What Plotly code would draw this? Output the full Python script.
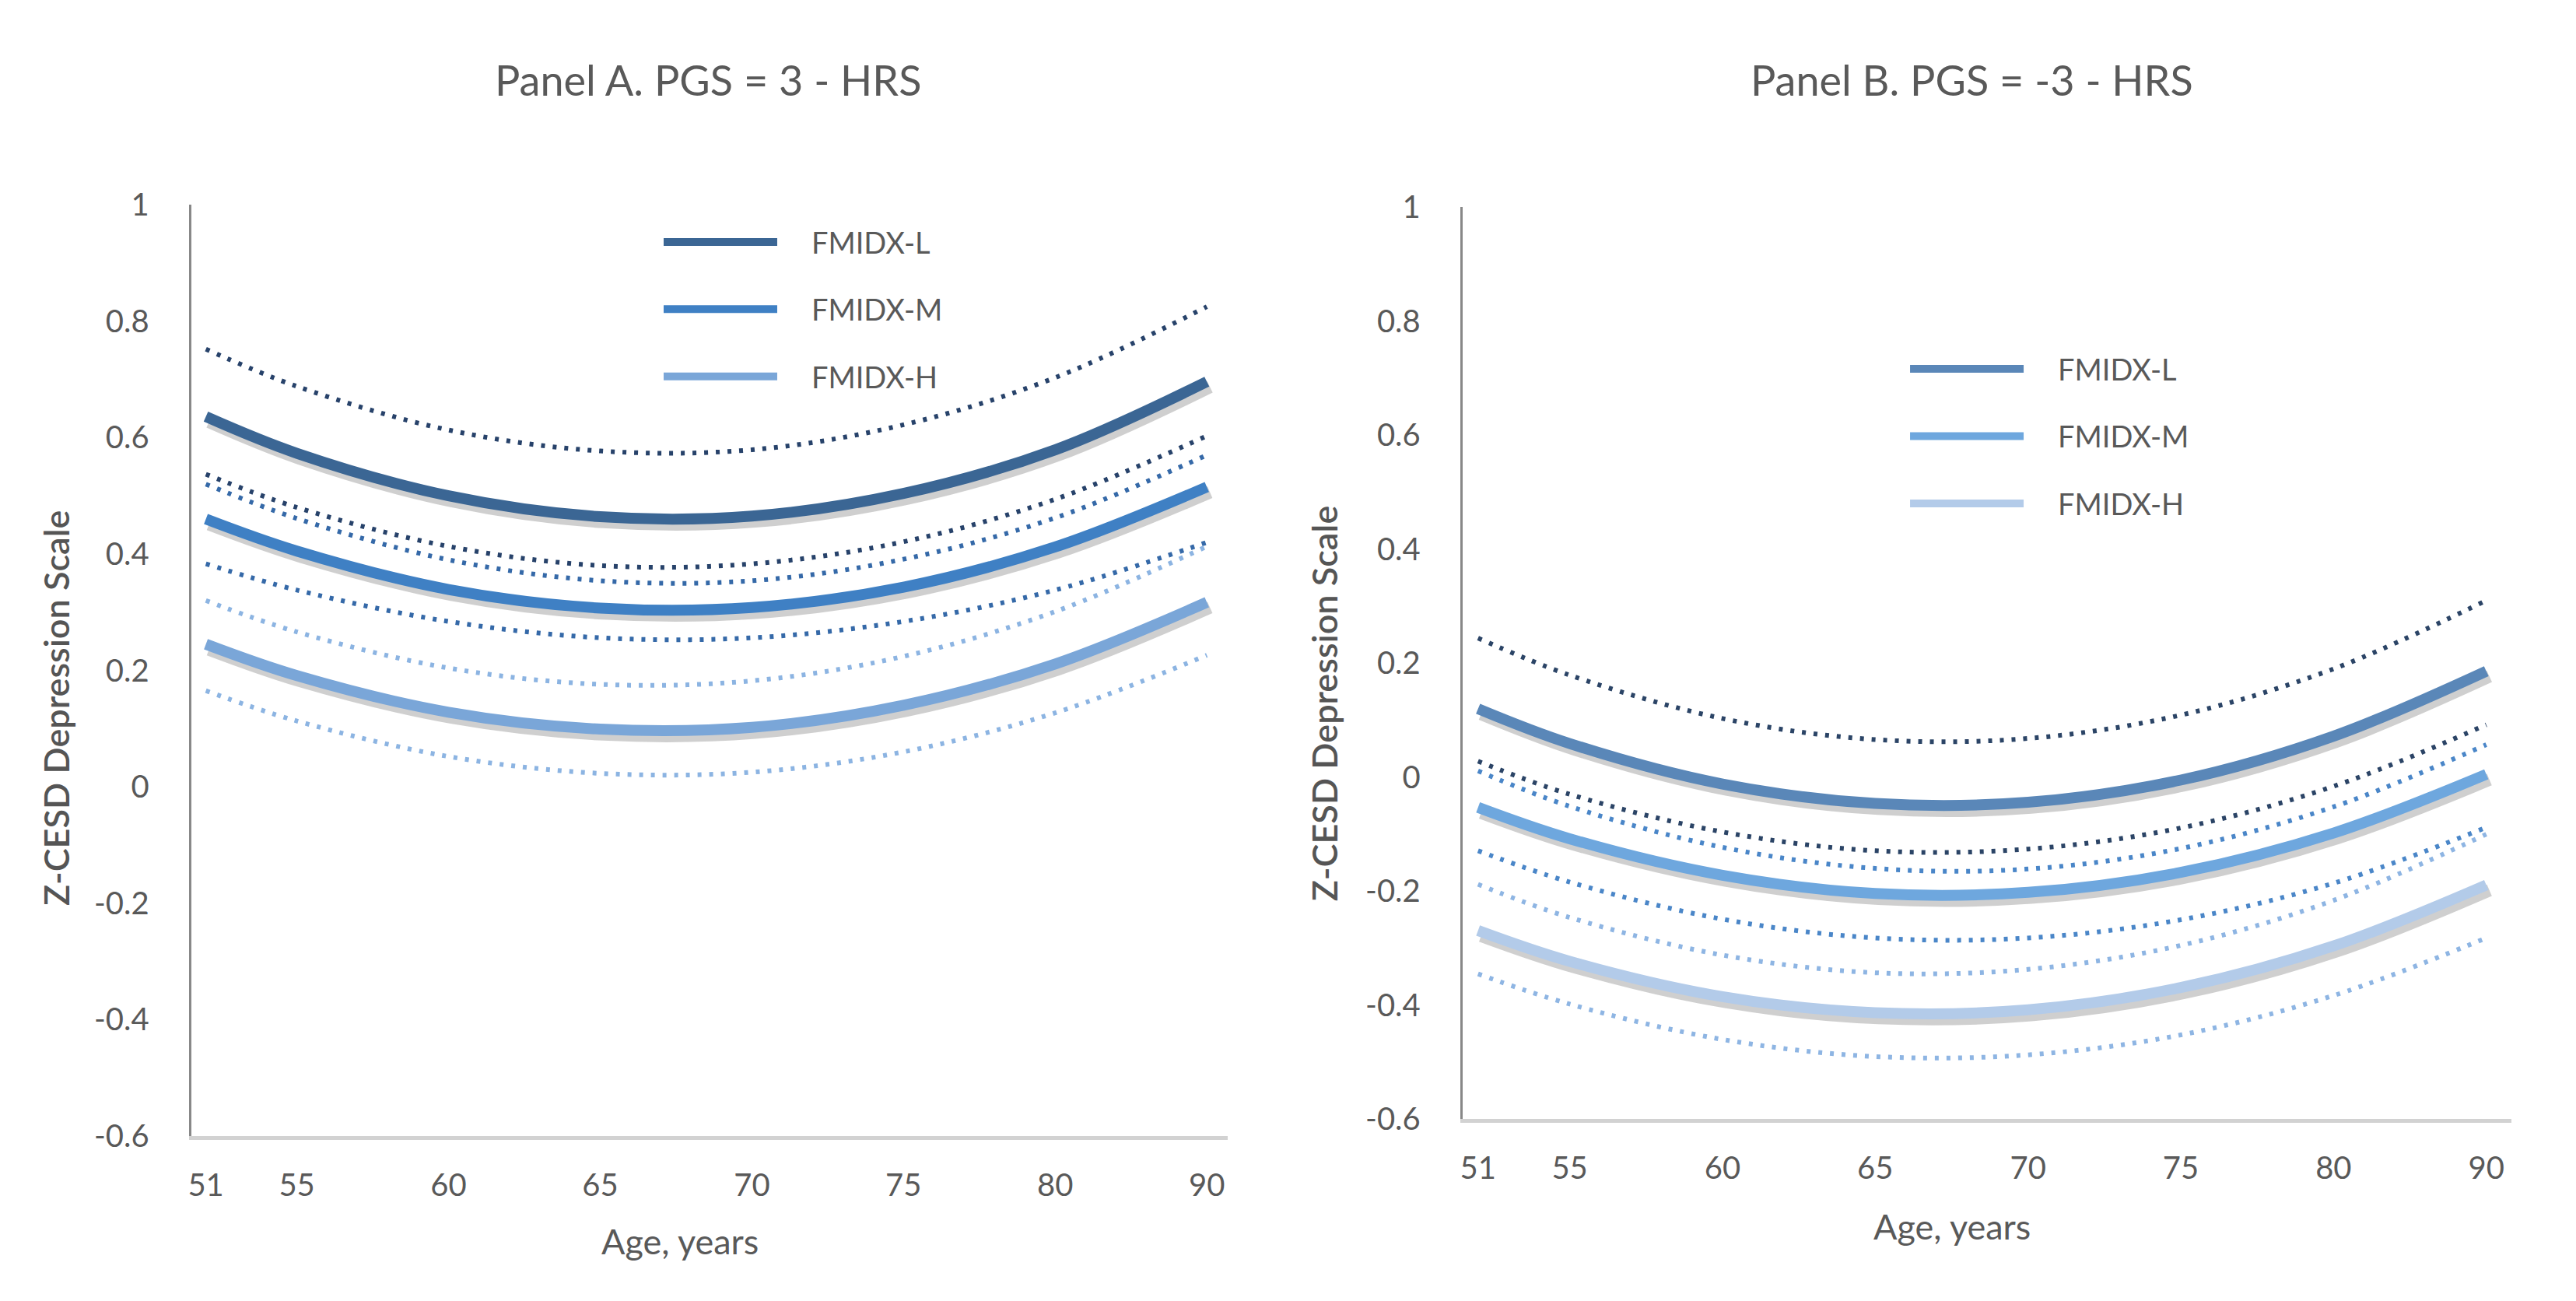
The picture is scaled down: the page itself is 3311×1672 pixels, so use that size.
import plotly.graph_objects as go

# ---------------- data ----------------
AGE_LABELS = ["51", "55", "60", "65", "70", "75", "80", "90"]
SERIES = ["FMIDX-L", "FMIDX-M", "FMIDX-H"]
Y_TICKS = [1, 0.8, 0.6, 0.4, 0.2, 0, -0.2, -0.4, -0.6]
Y_TICK_TEXT = ["1", "0.8", "0.6", "0.4", "0.2", "0", "-0.2", "-0.4", "-0.6"]

# Panel A. PGS = 3 - HRS  (estimate, upper and lower bound at each age label)
A_L = [0.636, 0.573, 0.500, 0.464, 0.465, 0.504, 0.579, 0.696]
A_L_UP = [0.752, 0.688, 0.613, 0.577, 0.579, 0.622, 0.703, 0.825]
A_L_LO = [0.537, 0.480, 0.413, 0.380, 0.383, 0.421, 0.494, 0.603]
A_M = [0.460, 0.405, 0.339, 0.307, 0.308, 0.343, 0.412, 0.515]
A_M_UP = [0.520, 0.461, 0.390, 0.354, 0.354, 0.391, 0.462, 0.570]
A_M_LO = [0.383, 0.338, 0.284, 0.256, 0.256, 0.284, 0.338, 0.420]
A_H = [0.245, 0.191, 0.128, 0.099, 0.102, 0.140, 0.211, 0.317]
A_H_UP = [0.320, 0.266, 0.204, 0.176, 0.182, 0.224, 0.301, 0.413]
A_H_LO = [0.165, 0.113, 0.052, 0.023, 0.025, 0.060, 0.127, 0.226]

# Panel B. PGS = -3 - HRS
B_L = [0.120, 0.059, -0.012, -0.046, -0.044, -0.005, 0.072, 0.186]
B_L_UP = [0.244, 0.179, 0.103, 0.066, 0.068, 0.109, 0.190, 0.310]
B_L_LO = [0.028, -0.030, -0.096, -0.129, -0.126, -0.089, -0.016, 0.092]
B_M = [-0.053, -0.108, -0.172, -0.204, -0.202, -0.167, -0.098, 0.005]
B_M_UP = [0.011, -0.051, -0.123, -0.160, -0.161, -0.125, -0.052, 0.057]
B_M_LO = [-0.129, -0.184, -0.249, -0.282, -0.282, -0.250, -0.186, -0.088]
B_H = [-0.269, -0.323, -0.385, -0.413, -0.408, -0.369, -0.296, -0.189]
B_H_UP = [-0.188, -0.246, -0.312, -0.343, -0.337, -0.295, -0.216, -0.100]
B_H_LO = [-0.345, -0.398, -0.460, -0.490, -0.487, -0.452, -0.383, -0.282]

# ---------------- layout helpers ----------------
W, H = 3311, 1672
PAGE_OFF = 8  # default page body margin
# the source chart spaces its age labels unevenly (51 and 55 close together)
TICK_POS = [0, 0.6, 1.6, 2.6, 3.6, 4.6, 5.6, 6.6]


def fx(p):
    return (p - PAGE_OFF) / W


def fy(p):
    return 1 - (p - PAGE_OFF) / H


FONT = "Lato, 'Open Sans', sans-serif"
TXT = "#595959"

panels = {
    "A": dict(x0=242, x1=1576, ytop=245, ybot=1477, xr=[-0.097, 6.738],
              title="Panel A. PGS = 3 - HRS", tx=907, ty=80,
              xt=(871, 1616), yt=(68, 910),
              solid=["#3b6694", "#3f80c4", "#7aa6d8"],
              dots=["#27426a", "#3569a8", "#8cb4e2"],
              data=[(A_L, A_L_UP, A_L_LO), (A_M, A_M_UP, A_M_LO), (A_H, A_H_UP, A_H_LO)],
              legend="legend", ax_main=3, ax_shadow=1),
    "B": dict(x0=1878, x1=3228, ytop=248, ybot=1455, xr=[-0.102, 6.765],
              title="Panel B. PGS = -3 - HRS", tx=2534, ty=80,
              xt=(2508, 1597), yt=(1700, 904),
              solid=["#5a87b8", "#6ea7de", "#b3cbe9"],
              dots=["#2b4466", "#4a86c8", "#8eb5e3"],
              data=[(B_L, B_L_UP, B_L_LO), (B_M, B_M_UP, B_M_LO), (B_H, B_H_UP, B_H_LO)],
              legend="legend2", ax_main=4, ax_shadow=2),
}

fig = go.Figure()
layout = dict(
    width=W, height=H, margin=dict(l=0, r=0, t=0, b=0),
    paper_bgcolor="white", plot_bgcolor="rgba(0,0,0,0)",
    font=dict(family=FONT, color=TXT),
    annotations=[],
)

SH_DX, SH_DY = 4, 7

for key, p in panels.items():
    xd = [fx(p["x0"]), fx(p["x1"])]
    yd = [fy(p["ybot"]), fy(p["ytop"])]
    xds = [fx(p["x0"] + SH_DX), fx(p["x1"] + SH_DX)]
    yds = [fy(p["ybot"] + SH_DY), fy(p["ytop"] + SH_DY)]
    m, s = p["ax_main"], p["ax_shadow"]
    sx = "x" if s == 1 else f"x{s}"
    sy = "y" if s == 1 else f"y{s}"
    mx, my = f"x{m}", f"y{m}"

    # shadow axes (hidden, nudged a few pixels down-right)
    layout["xaxis" if s == 1 else f"xaxis{s}"] = dict(domain=xds, range=p["xr"], visible=False, anchor=sy)
    layout["yaxis" if s == 1 else f"yaxis{s}"] = dict(domain=yds, range=[-0.6, 1], visible=False, anchor=sx)
    # main axes
    layout[f"xaxis{m}"] = dict(
        domain=xd, range=p["xr"], anchor=my,
        tickmode="array", tickvals=TICK_POS, ticktext=AGE_LABELS,
        showgrid=False, zeroline=False, showline=True, linecolor="#d2d2d2", linewidth=5,
        ticks="", tickfont=dict(size=40, color=TXT, family=FONT), ticklabelstandoff=24,
    )
    layout[f"yaxis{m}"] = dict(
        domain=yd, range=[-0.6, 1], anchor=mx,
        tickmode="array", tickvals=Y_TICKS, ticktext=Y_TICK_TEXT,
        showgrid=False, zeroline=False, showline=True, linecolor="#888888", linewidth=3,
        ticks="", tickfont=dict(size=40, color=TXT, family=FONT), ticklabelstandoff=43,
    )

    # shadows under the solid lines
    for (est, up, lo) in p["data"]:
        fig.add_trace(go.Scatter(
            x=TICK_POS, y=est, xaxis=sx, yaxis=sy, mode="lines", line_shape="spline",
            line=dict(color="rgba(70,70,70,0.26)", width=16), showlegend=False, hoverinfo="skip"))
    # dotted bounds
    for i, (est, up, lo) in enumerate(p["data"]):
        for bound in (up, lo):
            fig.add_trace(go.Scatter(
                x=TICK_POS, y=bound, xaxis=mx, yaxis=my, mode="lines", line_shape="spline",
                line=dict(color=p["dots"][i], width=6, dash="5px,10px"), showlegend=False))
    # solid estimates (legend entries)
    for i, (est, up, lo) in enumerate(p["data"]):
        fig.add_trace(go.Scatter(
            x=TICK_POS, y=est, xaxis=mx, yaxis=my, mode="lines", line_shape="spline",
            line=dict(color=p["solid"][i], width=14), name="\u00a0\u00a0\u00a0\u00a0" + SERIES[i],
            legend=p["legend"], legendgroup=f"{key}{i}"))

    layout["annotations"] += [
        dict(text=p["title"], x=fx(p["tx"]), y=fy(p["ty"]), xref="paper", yref="paper",
             showarrow=False, font=dict(size=54, color=TXT, family=FONT), xanchor="center", yanchor="middle"),
        dict(text="Age, years", x=fx(p["xt"][0]), y=fy(p["xt"][1]), xref="paper", yref="paper",
             showarrow=False, font=dict(size=45, color=TXT, family=FONT), xanchor="center", yanchor="middle"),
        dict(text="Z-CESD Depression Scale", x=fx(p["yt"][0]), y=fy(p["yt"][1]), xref="paper", yref="paper",
             showarrow=False, textangle=-90, font=dict(size=45, color="#555555", family=FONT, weight=600),
             xanchor="center", yanchor="middle"),
    ]

leg_common = dict(bgcolor="rgba(0,0,0,0)", font=dict(size=38, color=TXT, family=FONT),
                  tracegroupgap=34, itemwidth=146, xanchor="left", yanchor="top")
layout["legend"] = dict(x=fx(845), y=fy(262), **leg_common)
layout["legend2"] = dict(x=fx(2449), y=fy(430), **leg_common)

fig.update_layout(**layout)
fig.write_html("out.html")
